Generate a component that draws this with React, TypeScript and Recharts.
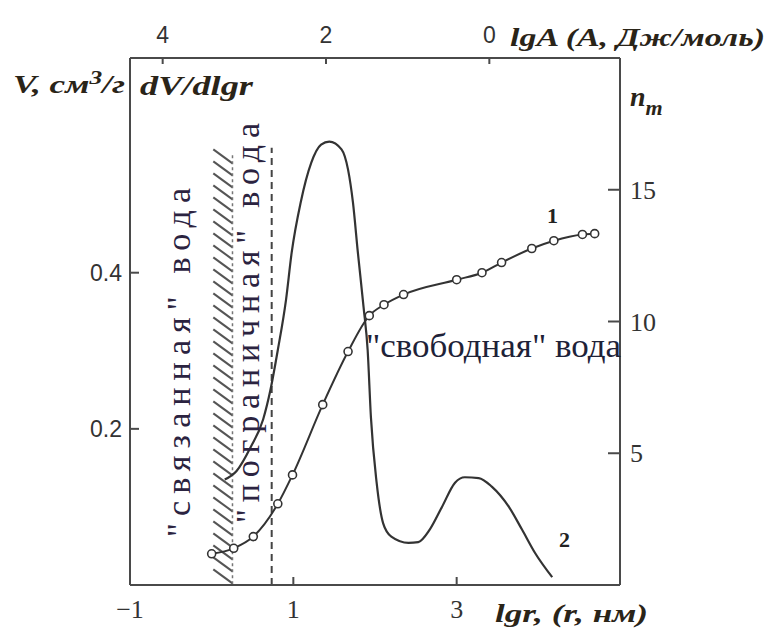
import React from 'react';
import { LineChart, Line, XAxis, YAxis, ReferenceArea, ReferenceLine } from 'recharts';

// axes
const lgrTicks = [-1, 1, 3];
const lgATicks = [4, 2, 0];
const lgAOffset = 3.4; // lgA = lgAOffset - lgr
const vTicks = [0.2, 0.4];
const nTicks = [5, 10, 15];

// curve 1: V(lgr), with markers
const curve1Lgr = [0.0, 0.27, 0.51, 0.81, 0.99, 1.36, 1.67, 1.93, 2.11, 2.35, 3.0, 3.31, 3.55, 3.92, 4.19, 4.54, 4.69];
const curve1V = [0.04, 0.047, 0.062, 0.104, 0.141, 0.231, 0.299, 0.345, 0.359, 0.372, 0.391, 0.4, 0.413, 0.431, 0.441, 0.449, 0.45];

// curve 2: dV/dlgr
const curve2Lgr = [0.16, 0.305, 0.48, 0.63, 0.72, 0.81, 0.91, 0.98, 1.09, 1.22, 1.34, 1.44, 1.59, 1.67, 1.73, 1.79, 1.86, 1.91, 1.95, 2.02, 2.1, 2.2, 2.41, 2.53, 2.67, 2.82, 2.98, 3.1, 3.27, 3.43, 3.64, 3.8, 3.96, 4.17];
const curve2Val = [0.135, 0.146, 0.177, 0.212, 0.25, 0.301, 0.365, 0.426, 0.49, 0.541, 0.564, 0.568, 0.558, 0.532, 0.49, 0.426, 0.356, 0.301, 0.215, 0.131, 0.079, 0.062, 0.054, 0.055, 0.071, 0.1, 0.131, 0.138, 0.137, 0.126, 0.1, 0.071, 0.041, 0.01];

// zone boundaries (lgr) and their height (V)
const boundBand = [0.02, 0.255];
const boundTop = 0.558;
const borderLgr = 0.735;
const borderTop = 0.56;

const curve1 = curve1Lgr.map((lgr, i) => ({ lgr, v: curve1V[i] }));
const curve2 = curve2Lgr.map((lgr, i) => ({ lgr, v: curve2Val[i] }));
const topTicks = lgATicks.map((a) => lgAOffset - a);

const INK = '#333';
const AXIS = '#4a4a4a';
const SERIF = 'Liberation Serif, Times New Roman, DejaVu Serif, serif';
const SANS = 'Liberation Sans, Arial, sans-serif';
const LABEL = '#2b2340';

const sansTick = { fontSize: 23, fill: '#333', fontFamily: SANS };
const serifTick = { fontSize: 26, fill: '#333', fontFamily: SERIF };
const axisLine = { stroke: AXIS, strokeWidth: 2 };

const Hatch = (props: any) => {
  const { x, y, width, height } = props;
  const strokes = [];
  for (let yy = y; yy + 14 <= y + height; yy += 12) {
    strokes.push(<line key={yy} x1={x} y1={yy} x2={x + width} y2={yy + 14} stroke="#555" strokeWidth={2} />);
  }
  return (
    <g>
      {strokes}
      <line x1={x + width} y1={y + 6} x2={x + width} y2={y + height} stroke="#777" strokeWidth={1.5} strokeDasharray="3 3" />
    </g>
  );
};

const App = () => {
  return (
    <div style={{ position: 'absolute', left: 0, top: 0, width: 781, height: 630, background: '#fff' }}>
      <LineChart width={781} height={630} margin={{ top: 28, right: 101, bottom: 15, left: 70 }}>
        <XAxis xAxisId="bottom" orientation="bottom" type="number" dataKey="lgr" domain={[-1, 5]} ticks={lgrTicks}
          allowDataOverflow height={30} tick={serifTick} tickSize={-8} tickMargin={23} axisLine={axisLine} tickLine={axisLine}
          tickFormatter={(v: number) => (v < 0 ? `\u2212${-v}` : `${v}`)} />
        <XAxis xAxisId="top" orientation="top" type="number" dataKey="lgr" domain={[-1, 5]} ticks={topTicks}
          allowDataOverflow height={30} tick={sansTick} tickSize={-6} tickMargin={21} axisLine={axisLine} tickLine={axisLine}
          tickFormatter={(v: number) => `${Math.round(lgAOffset - v)}`} />
        <YAxis yAxisId="v" orientation="left" type="number" domain={[0, 0.675]} ticks={vTicks} allowDataOverflow
          width={60} tick={sansTick} tickSize={-9} tickMargin={17} axisLine={axisLine} tickLine={axisLine} />
        <YAxis yAxisId="n" orientation="right" type="number" domain={[0, 20]} ticks={nTicks} allowDataOverflow
          width={60} tick={serifTick} tickSize={-12} tickMargin={22} axisLine={axisLine} tickLine={axisLine} />

        <ReferenceArea xAxisId="bottom" yAxisId="v" x1={boundBand[0]} x2={boundBand[1]} y1={0} y2={boundTop}
          shape={<Hatch />} />
        <ReferenceLine xAxisId="bottom" yAxisId="v" segment={[{ x: borderLgr, y: 0 }, { x: borderLgr, y: borderTop }]}
          stroke="#444" strokeWidth={2} strokeDasharray="7 5" />

        <Line xAxisId="bottom" yAxisId="v" data={curve2} dataKey="v" type="monotone" stroke={INK} strokeWidth={2.2}
          dot={false} isAnimationActive={false} />
        <Line xAxisId="bottom" yAxisId="v" data={curve1} dataKey="v" type="monotone" stroke={INK} strokeWidth={2}
          dot={{ r: 4, fill: '#fff', stroke: INK, strokeWidth: 1.6 }} isAnimationActive={false} />
      </LineChart>

      <svg width={781} height={630} style={{ position: 'absolute', left: 0, top: 0, pointerEvents: 'none' }}>
        <g style={{ fontFamily: SERIF }} fontWeight="bold" fontStyle="italic" fill="#2a2418">
          <text x={13} y={93} fontSize={25} textLength={112} lengthAdjust="spacingAndGlyphs">
            V, см<tspan dy={-9} fontSize={18}>3</tspan><tspan dy={9}>/г</tspan>
          </text>
          <text x={140} y={95} fontSize={27} textLength={113} lengthAdjust="spacingAndGlyphs">dV/dlgr</text>
          <text x={510} y={46} fontSize={26} textLength={255} lengthAdjust="spacingAndGlyphs">lgA (A, Дж/моль)</text>
          <text x={630} y={106} fontSize={28}>
            n<tspan dy={9} fontSize={22}>m</tspan>
          </text>
          <text x={495} y={622} fontSize={26} textLength={153} lengthAdjust="spacingAndGlyphs">lgr, (r, нм)</text>
        </g>
        <g style={{ fontFamily: SERIF }} fontWeight="bold" fill="#222" fontSize={22}>
          <text x={547} y={223}>1</text>
          <text x={559} y={547}>2</text>
        </g>
        <g style={{ fontFamily: SERIF }} fill={LABEL} fontSize={34}>
          <text x={190} y={537} transform="rotate(-90 190 537)" textLength={349} lengthAdjust="spacing">"связанная" вода</text>
          <text x={259} y={523} transform="rotate(-90 259 523)" textLength={400} lengthAdjust="spacing">"пограничная" вода</text>
          <text x={366} y={357} fill="#1e2238" fontSize={33} textLength={255} lengthAdjust="spacingAndGlyphs">"свободная" вода</text>
        </g>
      </svg>
    </div>
  );
};

export default App;
